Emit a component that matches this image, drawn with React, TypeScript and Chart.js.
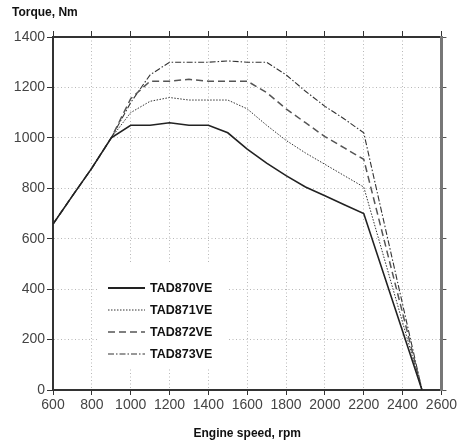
import React, { useEffect, useRef } from "react";
import { Chart, registerables } from "chart.js";

Chart.register(...registerables);

const rpm = [600, 700, 800, 900, 1000, 1100, 1200, 1300, 1400, 1500, 1600, 1700, 1800, 1900, 2000, 2100, 2200, 2500];
const tad870 = [658, 770, 880, 1000, 1050, 1050, 1060, 1050, 1050, 1020, 955, 900, 850, 805, 770, 735, 700, 0];
const tad871 = [658, 770, 880, 1000, 1100, 1145, 1160, 1150, 1150, 1150, 1115, 1050, 990, 940, 895, 850, 805, 0];
const tad872 = [658, 770, 880, 1000, 1155, 1225, 1225, 1232, 1225, 1225, 1225, 1180, 1115, 1060, 1005, 960, 915, 0];
const tad873 = [658, 770, 880, 1000, 1140, 1250, 1300, 1300, 1300, 1305, 1300, 1300, 1250, 1185, 1125, 1075, 1020, 0];
const seriesNames = ["TAD870VE", "TAD871VE", "TAD872VE", "TAD873VE"];
const yTitle = "Torque, Nm";
const xTitle = "Engine speed, rpm";

const styles = [
  { color: "#222", width: 1.6, dash: [] as number[] },
  { color: "#333", width: 1, dash: [1.5, 1.5] },
  { color: "#555", width: 1.5, dash: [7, 4] },
  { color: "#333", width: 1.1, dash: [6, 2, 1.5, 2] },
];

const FONT = "'Liberation Sans', Arial, Helvetica, sans-serif";

const extrasPlugin = {
  id: "extras",
  beforeDatasetsDraw(chart: any) {
    const { ctx, chartArea } = chart;
    ctx.save();
    const bx = chartArea.left + 44;
    const by = chartArea.top + 226;
    ctx.fillStyle = "#fff";
    ctx.fillRect(bx, by, 130, 104);
    ctx.font = `bold 12.5px ${FONT}`;
    ctx.textBaseline = "middle";
    chart.data.datasets.forEach((ds: any, i: number) => {
      const y = by + 25 + i * 22;
      ctx.beginPath();
      ctx.strokeStyle = ds.borderColor;
      ctx.lineWidth = i === 0 ? 2.2 : ds.borderWidth;
      ctx.setLineDash(ds.borderDash || []);
      ctx.moveTo(bx + 11, y);
      ctx.lineTo(bx + 48, y);
      ctx.stroke();
      ctx.setLineDash([]);
      ctx.fillStyle = "#111";
      ctx.fillText(ds.label, bx + 53, y + 1);
    });
    ctx.restore();
  },
  afterDraw(chart: any) {
    const { ctx } = chart;
    ctx.save();
    ctx.font = `bold 12px ${FONT}`;
    ctx.fillStyle = "#111";
    ctx.textBaseline = "middle";
    ctx.fillText(yTitle, 12, 13);
    ctx.restore();
  },
};

export default function App() {
  const ref = useRef<HTMLCanvasElement>(null);
  useEffect(() => {
    document.body.style.margin = "0";
    const datasets = [tad870, tad871, tad872, tad873].map((vals, i) => ({
      label: seriesNames[i],
      data: rpm.map((x, j) => ({ x, y: vals[j] })),
      borderColor: styles[i].color,
      borderWidth: styles[i].width,
      borderDash: styles[i].dash,
      pointRadius: 0,
      fill: false,
      tension: 0,
    }));
    const tickFont = { family: FONT, size: 14 };
    const plain = (v: any) => String(v);
    const chart = new Chart(ref.current!, {
      type: "line",
      data: { datasets },
      plugins: [extrasPlugin],
      options: {
        animation: false,
        responsive: false,
        maintainAspectRatio: false,
        layout: { padding: { top: 31, left: 0, right: 0, bottom: 0 } },
        plugins: { legend: { display: false }, tooltip: { enabled: false }, title: { display: false } },
        scales: {
          x: {
            type: "linear",
            min: 600,
            max: 2600,
            position: "bottom",
            ticks: { stepSize: 200, color: "#444", font: tickFont, padding: 2, maxRotation: 0, callback: plain },
            grid: { color: "#b8b8b8", tickColor: "#333", tickLength: 5, lineWidth: 1 },
            border: { color: "#333", width: 2, dash: [1, 2.5] },
            title: { display: true, text: xTitle, font: { family: FONT, size: 12, weight: "bold" }, color: "#111", padding: { top: 9, bottom: 0 } },
            afterFit: (s: any) => { s.height = 51; },
          },
          x2: {
            type: "linear",
            min: 600,
            max: 2600,
            position: "top",
            ticks: { stepSize: 200, display: false },
            grid: { drawOnChartArea: false, tickColor: "#333", tickLength: 6 },
            border: { color: "#333", width: 2 },
            afterFit: (s: any) => { s.height = 6; },
          },
          y: {
            type: "linear",
            min: 0,
            max: 1400,
            position: "left",
            ticks: { stepSize: 200, color: "#444", font: tickFont, padding: 2, callback: plain },
            grid: { color: "#b8b8b8", tickColor: "#333", tickLength: 6, lineWidth: 1 },
            border: { color: "#333", width: 2, dash: [1, 2.5] },
            afterFit: (s: any) => { s.width = 53; },
          },
          y2: {
            type: "linear",
            min: 0,
            max: 1400,
            position: "right",
            ticks: { stepSize: 200, display: false },
            grid: { drawOnChartArea: false, tickColor: "#555", tickLength: 5 },
            border: { color: "#777", width: 3 },
            afterFit: (s: any) => { s.width = 16; },
          },
        },
      } as any,
    });
    return () => chart.destroy();
  }, []);
  return (
    <div style={{ width: 459, height: 441, background: "#fff" }}>
      <canvas ref={ref} width={459} height={441} style={{ display: "block" }} />
    </div>
  );
}
